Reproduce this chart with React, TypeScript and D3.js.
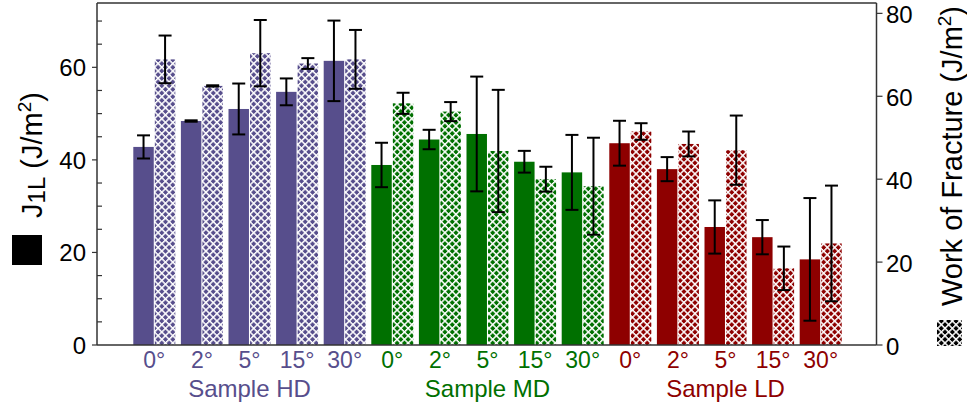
import React from "react";
import * as d3 from "d3";

// ---- data ----
const angles = ["0°", "2°", "5°", "15°", "30°"];
const samples = ["Sample HD", "Sample MD", "Sample LD"];
const sampleColors = ["#574e8c", "#007000", "#8e0000"];

const hdJ1L = [42.8, 48.4, 51.0, 54.7, 61.4];
const hdJ1LErr = [2.5, 0.15, 5.5, 2.9, 8.7];
const mdJ1L = [38.9, 44.4, 45.6, 39.6, 37.3];
const mdJ1LErr = [4.8, 2.1, 12.4, 2.35, 8.1];
const ldJ1L = [43.6, 38.0, 25.5, 23.3, 18.5];
const ldJ1LErr = [4.85, 2.6, 5.75, 3.7, 13.25];

const hdWoF = [68.9, 62.5, 70.4, 67.9, 68.9];
const hdWoFErr = [5.75, 0.15, 8.0, 1.3, 7.1];
const mdWoF = [58.3, 56.3, 46.8, 40.0, 38.3];
const mdWoFErr = [2.55, 2.3, 14.75, 3.0, 11.7];
const ldWoF = [51.5, 48.5, 47.0, 18.5, 24.5];
const ldWoFErr = [2.0, 3.0, 8.35, 5.25, 13.95];

const leftMajorTicks = [0, 20, 40, 60];
const rightTicks = [0, 20, 40, 60, 80];

const j1lSets = [hdJ1L, mdJ1L, ldJ1L];
const j1lErrSets = [hdJ1LErr, mdJ1LErr, ldJ1LErr];
const wofSets = [hdWoF, mdWoF, ldWoF];
const wofErrSets = [hdWoFErr, mdWoFErr, ldWoFErr];

type Group = {
  id: string;
  s: number;
  angle: string;
  j: number;
  jErr: number;
  w: number;
  wErr: number;
  color: string;
};

const groups: Group[] = [];
samples.forEach((_, s) => {
  angles.forEach((a, i) => {
    groups.push({
      id: `${s}-${i}`,
      s,
      angle: a,
      j: j1lSets[s][i],
      jErr: j1lErrSets[s][i],
      w: wofSets[s][i],
      wErr: wofErrSets[s][i],
      color: sampleColors[s],
    });
  });
});

const W = 967;
const H = 408;
const plotL = 97;
const plotR = 876.5;
const plotT = 3;
const plotB = 345;
const FONT = "'Liberation Sans', Arial, Helvetica, sans-serif";

export default function App() {
  const x = d3
    .scaleBand<string>()
    .domain(groups.map((g) => g.id))
    .range([133.3, 841.7])
    .paddingInner(0.1176)
    .paddingOuter(0);
  const sub = d3
    .scaleBand<string>()
    .domain(["j", "w"])
    .range([0, x.bandwidth()])
    .paddingInner(0.05);
  const yL = d3.scaleLinear().domain([0, 73.9]).range([plotB, plotT]);
  const yR = d3.scaleLinear().domain([0, 82.5]).range([plotB, plotT]);

  const minorTicks = d3.range(5, 74, 5).filter((v) => v % 20 !== 0);
  const cap = 6.5;
  const bw = sub.bandwidth();

  const patId = (c: string) => "hatch" + c.replace("#", "");
  const P = 5.2;
  const LW = 1.5;

  const errBar = (cx: number, yTop: number, yBot: number, key: string) => (
    <g key={key} stroke="#000" strokeWidth={2} fill="none">
      <line x1={cx} x2={cx} y1={yTop} y2={yBot} />
      <line x1={cx - cap} x2={cx + cap} y1={yTop} y2={yTop} />
      <line x1={cx - cap} x2={cx + cap} y1={yBot} y2={yBot} />
    </g>
  );

  return (
    <svg
      width={W}
      height={H}
      style={{ position: "absolute", left: 0, top: 0, background: "#fff" }}
      fontFamily={FONT}
    >
      <defs>
        {[...sampleColors, "#000000"].map((c) => (
          <pattern
            key={c}
            id={patId(c)}
            width={P}
            height={P}
            patternUnits="userSpaceOnUse"
            patternTransform="rotate(45)"
          >
            <rect width={P} height={P} fill={c} />
            <rect width={LW} height={P} fill="#fff" />
            <rect width={P} height={LW} fill="#fff" />
          </pattern>
        ))}
      </defs>
      <rect width={W} height={H} fill="#fff" />

      {/* bars */}
      {groups.map((g) => {
        const x0 = x(g.id)!;
        const xj = x0 + sub("j")!;
        const xw = x0 + sub("w")!;
        return (
          <g key={g.id}>
            <rect
              x={xj}
              y={yL(g.j)}
              width={bw}
              height={plotB - yL(g.j)}
              fill={g.color}
            />
            <rect
              x={xw}
              y={yR(g.w)}
              width={bw}
              height={plotB - yR(g.w)}
              fill={`url(#${patId(g.color)})`}
            />
          </g>
        );
      })}
      {groups.map((g) => {
        const x0 = x(g.id)!;
        const cj = x0 + sub("j")! + bw / 2;
        const cw = x0 + sub("w")! + bw / 2;
        return (
          <g key={"e" + g.id}>
            {errBar(cj, yL(g.j + g.jErr), yL(g.j - g.jErr), "j")}
            {errBar(cw, yR(g.w + g.wErr), yR(g.w - g.wErr), "w")}
          </g>
        );
      })}

      {/* frame */}
      <g stroke="#333" strokeWidth={1.5} fill="none">
        <line x1={plotL} x2={plotR} y1={plotT} y2={plotT} />
        <line x1={plotL} x2={plotR} y1={plotB} y2={plotB} />
        <line x1={plotL} x2={plotL} y1={plotT} y2={plotB} />
        <line x1={plotR} x2={plotR} y1={plotT} y2={plotB} />
      </g>

      {/* left axis */}
      <g stroke="#333" strokeWidth={1.2}>
        {leftMajorTicks.map((v) => (
          <line key={v} x1={plotL - 5} x2={plotL} y1={yL(v)} y2={yL(v)} />
        ))}
        {minorTicks.map((v) => (
          <line key={v} x1={plotL} x2={plotL + 5} y1={yL(v)} y2={yL(v)} />
        ))}
      </g>
      <g fontSize={24} fill="#000" textAnchor="end">
        {leftMajorTicks.map((v) => (
          <text key={v} x={86} y={yL(v)} dy="0.36em">
            {v}
          </text>
        ))}
      </g>

      {/* right axis */}
      <g stroke="#333" strokeWidth={1.2}>
        {rightTicks.map((v) => (
          <line key={v} x1={plotR} x2={plotR + 6} y1={yR(v)} y2={yR(v)} />
        ))}
      </g>
      <g fontSize={24} fill="#000" textAnchor="start">
        {rightTicks.map((v) => (
          <text key={v} x={886} y={yR(v)} dy="0.42em">
            {v}
          </text>
        ))}
      </g>

      {/* x tick labels */}
      <g fontSize={23} textAnchor="middle">
        {groups.map((g) => (
          <text
            key={g.id}
            x={x(g.id)! + x.bandwidth() / 2}
            y={368}
            fill={g.color}
          >
            {g.angle}
          </text>
        ))}
      </g>
      <g fontSize={24} textAnchor="middle">
        {samples.map((s, i) => {
          const gs = groups.filter((g) => g.s === i);
          const a = x(gs[0].id)!;
          const b = x(gs[gs.length - 1].id)! + x.bandwidth();
          return (
            <text key={s} x={(a + b) / 2} y={397} fill={sampleColors[i]}>
              {s}
            </text>
          );
        })}
      </g>

      {/* left title + legend */}
      <rect x={12} y={235} width={30} height={30} fill="#000" />
      <text
        transform="translate(42,155) rotate(-90)"
        textAnchor="middle"
        fontSize={29}
        fill="#000"
      >
        J<tspan fontSize={24} dy={3}>1L</tspan>
        <tspan dy={-3}> (J/m</tspan>
        <tspan fontSize={19} dy={-11}>2</tspan>
        <tspan dy={11}>)</tspan>
      </text>

      {/* right title + legend */}
      <rect x={937} y={320} width={25} height={26} fill={`url(#${patId("#000000")})`} />
      <text
        transform="translate(962,156) rotate(-90)"
        textAnchor="middle"
        fontSize={29}
        fill="#000"
      >
        Work of Fracture (J/m
        <tspan fontSize={19} dy={-11}>2</tspan>
        <tspan dy={11}>)</tspan>
      </text>
    </svg>
  );
}
